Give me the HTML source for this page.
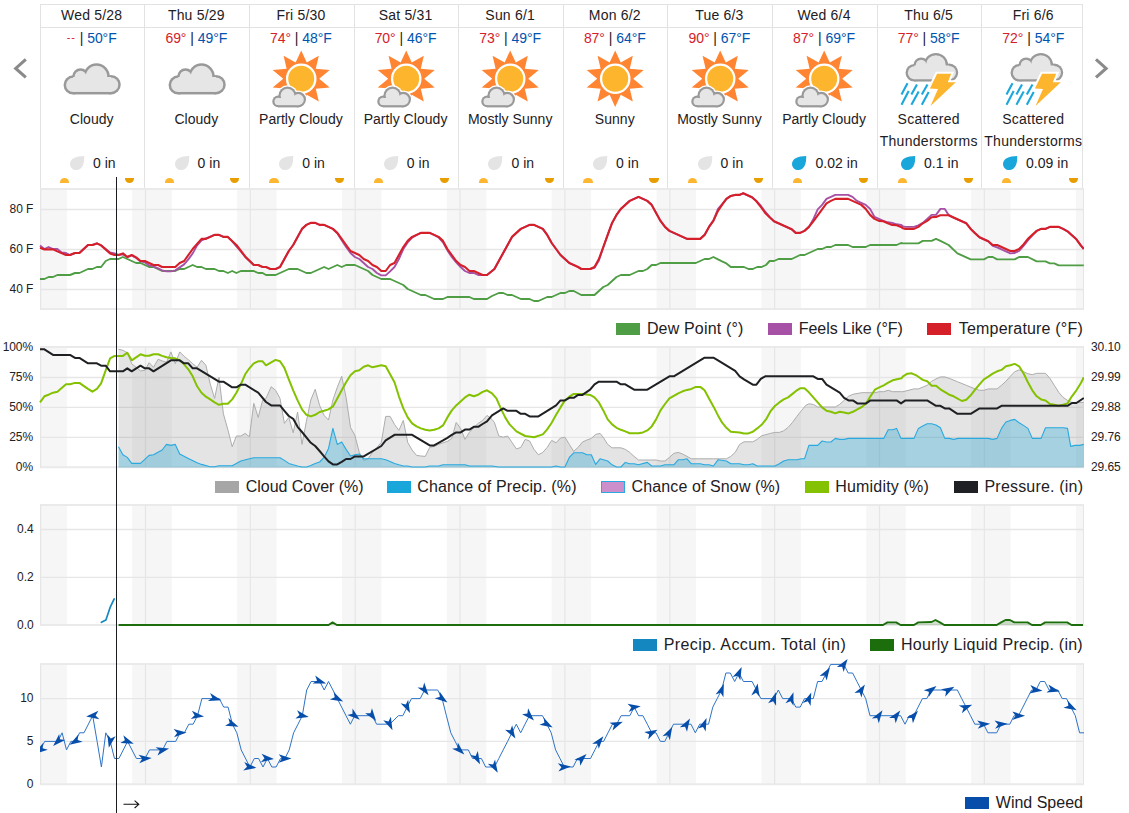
<!DOCTYPE html><html><head><meta charset="utf-8"><title>10-Day Weather Forecast</title><style>
html,body{margin:0;padding:0;background:#fff}
body{width:1129px;height:813px;overflow:hidden;position:relative;font-family:"Liberation Sans",sans-serif;color:#1e2023}
.a{position:absolute}
.t{position:absolute;white-space:nowrap;font-size:14px;line-height:22px;text-align:center;letter-spacing:.04px}
.hi{color:#d5202a}.lo{color:#0053ae}
.ax{position:absolute;font-size:12px;line-height:16px;white-space:nowrap;color:#1e2023;letter-spacing:-.1px}
.lg{position:absolute;font-size:16px;line-height:22px;white-space:nowrap;letter-spacing:.17px}
.sw{position:absolute;width:24px;height:11px}
#clip{position:absolute;left:0;top:0;width:1084px;height:813px;overflow:hidden}
</style></head><body>
<svg width="0" height="0" style="position:absolute"><defs>
<g id="bigcloud"><circle cx="9.90" cy="21.90" r="9.55" fill="#999"/><circle cx="17.30" cy="13.60" r="8.35" fill="#999"/><circle cx="33.30" cy="13.60" r="13.25" fill="#999"/><circle cx="47.80" cy="21.70" r="9.75" fill="#999"/><rect x="9.90" y="14.00" width="37.90" height="17.45" fill="#999"/><circle cx="9.90" cy="21.90" r="7.05" fill="#e6e6e6"/><circle cx="17.30" cy="13.60" r="5.85" fill="#e6e6e6"/><circle cx="33.30" cy="13.60" r="10.75" fill="#e6e6e6"/><circle cx="47.80" cy="21.70" r="7.25" fill="#e6e6e6"/><rect x="9.90" y="14.00" width="37.90" height="14.95" fill="#e6e6e6"/></g>
<g id="sun"><polygon points="0.00,-28.30 5.25,-16.17 16.63,-22.90 13.75,-9.99 26.91,-8.75 17.00,0.00 26.91,8.75 13.75,9.99 16.63,22.90 5.25,16.17 0.00,28.30 -5.25,16.17 -16.63,22.90 -13.75,9.99 -26.91,8.75 -17.00,0.00 -26.91,-8.75 -13.75,-9.99 -16.63,-22.90 -5.25,-16.17" fill="#ff8533" transform="scale(1.06,1)"/><circle r="15.3" fill="#fff"/><circle r="13" fill="#fdb52e"/></g>
<g id="smallcloud"><circle cx="29.20" cy="101.40" r="7.20" fill="#fff"/><circle cx="38.50" cy="95.60" r="10.40" fill="#fff"/><circle cx="49.20" cy="99.60" r="9.10" fill="#fff"/><rect x="29.20" y="98.00" width="20.00" height="10.70" fill="#fff"/><circle cx="29.20" cy="101.40" r="5.90" fill="#999"/><circle cx="38.50" cy="95.60" r="9.10" fill="#999"/><circle cx="49.20" cy="99.60" r="7.80" fill="#999"/><rect x="29.20" y="98.00" width="20.00" height="9.40" fill="#999"/><circle cx="29.20" cy="101.40" r="3.70" fill="#e6e6e6"/><circle cx="38.50" cy="95.60" r="6.90" fill="#e6e6e6"/><circle cx="49.20" cy="99.60" r="5.60" fill="#e6e6e6"/><rect x="29.20" y="98.00" width="20.00" height="7.20" fill="#e6e6e6"/></g>
<clipPath id="c4" clipPathUnits="userSpaceOnUse"><rect x="40" y="650" width="1043" height="160"/></clipPath>
<path id="drop" d="M14.2,0.1 C14.4,5.9 13.4,10.4 10.3,12.8 C7.1,15.1 2.8,14.2 0.9,11.2 C-1,8.1 0.2,4.1 3.6,2.3 C6.3,0.7 10.5,0.2 14.2,0.1 Z"/>
</defs></svg>
<div id="clip">
<div class="a" style="left:40px;top:4px;width:1043px;height:1px;background:#e2e2e2"></div>
<div class="a" style="left:40px;top:27px;width:1043px;height:1px;background:#e2e2e2"></div>
<div class="a" style="left:40px;top:4px;width:1px;height:184px;background:#e2e2e2"></div>
<div class="a" style="left:144px;top:4px;width:1px;height:184px;background:#e2e2e2"></div>
<div class="a" style="left:249px;top:4px;width:1px;height:184px;background:#e2e2e2"></div>
<div class="a" style="left:354px;top:4px;width:1px;height:184px;background:#e2e2e2"></div>
<div class="a" style="left:458px;top:4px;width:1px;height:184px;background:#e2e2e2"></div>
<div class="a" style="left:563px;top:4px;width:1px;height:184px;background:#e2e2e2"></div>
<div class="a" style="left:667px;top:4px;width:1px;height:184px;background:#e2e2e2"></div>
<div class="a" style="left:772px;top:4px;width:1px;height:184px;background:#e2e2e2"></div>
<div class="a" style="left:877px;top:4px;width:1px;height:184px;background:#e2e2e2"></div>
<div class="a" style="left:981px;top:4px;width:1px;height:184px;background:#e2e2e2"></div>
<div class="a" style="left:1082px;top:4px;width:1px;height:184px;background:#e2e2e2"></div>
<div class="t" style="left:39.40px;width:104.62px;top:3.75px;letter-spacing:.2px;">Wed 5/28</div>
<div class="t" style="left:39.40px;width:104.62px;top:27.25px;letter-spacing:-.05px;"><span class="hi" style="font-size:11px;letter-spacing:.9px;position:relative;top:-2.6px">--</span> | <span class="lo">50°F</span></div>
<div class="t" style="left:39.40px;width:104.62px;top:108.15px;">Cloudy</div>
<svg class="a" style="left:40.00px;top:45px" width="105" height="70" viewBox="0 45 105 70"><use href="#bigcloud" x="23.2" y="63"/></svg>
<svg class="a" style="left:69.90px;top:155.8px" width="15" height="15" viewBox="0 0 15 15"><use href="#drop" fill="#e4e4e4"/></svg>
<div class="t" style="left:92.90px;top:152.15px;text-align:left">0 in</div>
<div class="a" style="left:59.90px;top:177.8px;width:9.2px;height:4.9px;background:#fdb62f;border-radius:4.6px 4.6px 0 0"></div>
<div class="a" style="left:125.10px;top:178px;width:9.2px;height:5.1px;background:#e89e00;border-radius:0 0 4.6px 4.6px"></div>
<div class="t" style="left:144.02px;width:104.62px;top:3.75px;letter-spacing:.2px;">Thu 5/29</div>
<div class="t" style="left:144.02px;width:104.62px;top:27.25px;letter-spacing:-.05px;"><span class="hi">69°</span> | <span class="lo">49°F</span></div>
<div class="t" style="left:144.02px;width:104.62px;top:108.15px;">Cloudy</div>
<svg class="a" style="left:144.62px;top:45px" width="105" height="70" viewBox="0 45 105 70"><use href="#bigcloud" x="23.2" y="63"/></svg>
<svg class="a" style="left:174.52px;top:155.8px" width="15" height="15" viewBox="0 0 15 15"><use href="#drop" fill="#e4e4e4"/></svg>
<div class="t" style="left:197.52px;top:152.15px;text-align:left">0 in</div>
<div class="a" style="left:164.61px;top:177.8px;width:9.2px;height:4.9px;background:#fdb62f;border-radius:4.6px 4.6px 0 0"></div>
<div class="a" style="left:229.96px;top:178px;width:9.2px;height:5.1px;background:#e89e00;border-radius:0 0 4.6px 4.6px"></div>
<div class="t" style="left:248.64px;width:104.62px;top:3.75px;letter-spacing:.2px;">Fri 5/30</div>
<div class="t" style="left:248.64px;width:104.62px;top:27.25px;letter-spacing:-.05px;"><span class="hi">74°</span> | <span class="lo">48°F</span></div>
<div class="t" style="left:248.64px;width:104.62px;top:108.15px;">Partly Cloudy</div>
<svg class="a" style="left:249.24px;top:45px" width="105" height="70" viewBox="0 45 105 70"><use href="#sun" x="52.2" y="78.7"/><use href="#smallcloud"/></svg>
<svg class="a" style="left:279.14px;top:155.8px" width="15" height="15" viewBox="0 0 15 15"><use href="#drop" fill="#e4e4e4"/></svg>
<div class="t" style="left:302.14px;top:152.15px;text-align:left">0 in</div>
<div class="a" style="left:269.32px;top:177.8px;width:9.2px;height:4.9px;background:#fdb62f;border-radius:4.6px 4.6px 0 0"></div>
<div class="a" style="left:334.82px;top:178px;width:9.2px;height:5.1px;background:#e89e00;border-radius:0 0 4.6px 4.6px"></div>
<div class="t" style="left:353.26px;width:104.62px;top:3.75px;letter-spacing:.2px;">Sat 5/31</div>
<div class="t" style="left:353.26px;width:104.62px;top:27.25px;letter-spacing:-.05px;"><span class="hi">70°</span> | <span class="lo">46°F</span></div>
<div class="t" style="left:353.26px;width:104.62px;top:108.15px;">Partly Cloudy</div>
<svg class="a" style="left:353.86px;top:45px" width="105" height="70" viewBox="0 45 105 70"><use href="#sun" x="52.2" y="78.7"/><use href="#smallcloud"/></svg>
<svg class="a" style="left:383.76px;top:155.8px" width="15" height="15" viewBox="0 0 15 15"><use href="#drop" fill="#e4e4e4"/></svg>
<div class="t" style="left:406.76px;top:152.15px;text-align:left">0 in</div>
<div class="a" style="left:374.03px;top:177.8px;width:9.2px;height:4.9px;background:#fdb62f;border-radius:4.6px 4.6px 0 0"></div>
<div class="a" style="left:439.68px;top:178px;width:9.2px;height:5.1px;background:#e89e00;border-radius:0 0 4.6px 4.6px"></div>
<div class="t" style="left:457.88px;width:104.62px;top:3.75px;letter-spacing:.2px;">Sun 6/1</div>
<div class="t" style="left:457.88px;width:104.62px;top:27.25px;letter-spacing:-.05px;"><span class="hi">73°</span> | <span class="lo">49°F</span></div>
<div class="t" style="left:457.88px;width:104.62px;top:108.15px;">Mostly Sunny</div>
<svg class="a" style="left:458.48px;top:45px" width="105" height="70" viewBox="0 45 105 70"><use href="#sun" x="52.2" y="78.7"/><use href="#smallcloud"/></svg>
<svg class="a" style="left:488.38px;top:155.8px" width="15" height="15" viewBox="0 0 15 15"><use href="#drop" fill="#e4e4e4"/></svg>
<div class="t" style="left:511.38px;top:152.15px;text-align:left">0 in</div>
<div class="a" style="left:478.74px;top:177.8px;width:9.2px;height:4.9px;background:#fdb62f;border-radius:4.6px 4.6px 0 0"></div>
<div class="a" style="left:544.54px;top:178px;width:9.2px;height:5.1px;background:#e89e00;border-radius:0 0 4.6px 4.6px"></div>
<div class="t" style="left:562.50px;width:104.62px;top:3.75px;letter-spacing:.2px;">Mon 6/2</div>
<div class="t" style="left:562.50px;width:104.62px;top:27.25px;letter-spacing:-.05px;"><span class="hi">87°</span> | <span class="lo">64°F</span></div>
<div class="t" style="left:562.50px;width:104.62px;top:108.15px;">Sunny</div>
<svg class="a" style="left:563.10px;top:45px" width="105" height="70" viewBox="0 45 105 70"><use href="#sun" x="52.2" y="78.7"/></svg>
<svg class="a" style="left:593.00px;top:155.8px" width="15" height="15" viewBox="0 0 15 15"><use href="#drop" fill="#e4e4e4"/></svg>
<div class="t" style="left:616.00px;top:152.15px;text-align:left">0 in</div>
<div class="a" style="left:583.45px;top:177.8px;width:9.2px;height:4.9px;background:#fdb62f;border-radius:4.6px 4.6px 0 0"></div>
<div class="a" style="left:649.40px;top:178px;width:9.2px;height:5.1px;background:#e89e00;border-radius:0 0 4.6px 4.6px"></div>
<div class="t" style="left:667.12px;width:104.62px;top:3.75px;letter-spacing:.2px;">Tue 6/3</div>
<div class="t" style="left:667.12px;width:104.62px;top:27.25px;letter-spacing:-.05px;"><span class="hi">90°</span> | <span class="lo">67°F</span></div>
<div class="t" style="left:667.12px;width:104.62px;top:108.15px;">Mostly Sunny</div>
<svg class="a" style="left:667.72px;top:45px" width="105" height="70" viewBox="0 45 105 70"><use href="#sun" x="52.2" y="78.7"/><use href="#smallcloud"/></svg>
<svg class="a" style="left:697.62px;top:155.8px" width="15" height="15" viewBox="0 0 15 15"><use href="#drop" fill="#e4e4e4"/></svg>
<div class="t" style="left:720.62px;top:152.15px;text-align:left">0 in</div>
<div class="a" style="left:688.16px;top:177.8px;width:9.2px;height:4.9px;background:#fdb62f;border-radius:4.6px 4.6px 0 0"></div>
<div class="a" style="left:754.26px;top:178px;width:9.2px;height:5.1px;background:#e89e00;border-radius:0 0 4.6px 4.6px"></div>
<div class="t" style="left:771.74px;width:104.62px;top:3.75px;letter-spacing:.2px;">Wed 6/4</div>
<div class="t" style="left:771.74px;width:104.62px;top:27.25px;letter-spacing:-.05px;"><span class="hi">87°</span> | <span class="lo">69°F</span></div>
<div class="t" style="left:771.74px;width:104.62px;top:108.15px;">Partly Cloudy</div>
<svg class="a" style="left:772.34px;top:45px" width="105" height="70" viewBox="0 45 105 70"><use href="#sun" x="52.2" y="78.7"/><use href="#smallcloud"/></svg>
<svg class="a" style="left:792.00px;top:155.8px" width="15" height="15" viewBox="0 0 15 15"><use href="#drop" fill="#19a7db"/></svg>
<div class="t" style="left:815.50px;top:152.15px;text-align:left">0.02 in</div>
<div class="a" style="left:792.87px;top:177.8px;width:9.2px;height:4.9px;background:#fdb62f;border-radius:4.6px 4.6px 0 0"></div>
<div class="a" style="left:859.12px;top:178px;width:9.2px;height:5.1px;background:#e89e00;border-radius:0 0 4.6px 4.6px"></div>
<div class="t" style="left:876.36px;width:104.62px;top:3.75px;letter-spacing:.2px;">Thu 6/5</div>
<div class="t" style="left:876.36px;width:104.62px;top:27.25px;letter-spacing:-.05px;"><span class="hi">77°</span> | <span class="lo">58°F</span></div>
<div class="t" style="left:876.36px;width:104.62px;top:108.15px;letter-spacing:.25px;">Scattered</div>
<div class="t" style="left:876.36px;width:104.62px;top:130.15px;letter-spacing:.3px;">Thunderstorms</div>
<svg class="a" style="left:876.96px;top:45px" width="105" height="70" viewBox="0 45 105 70"><g transform="translate(28.2,52.6) scale(0.921)"><use href="#bigcloud"/></g><polygon points="60.1,73.8 74.2,73.8 70.8,82.2 78.8,82.2 53.5,106.0 61.0,89.1 52.9,88.5" fill="#fdb52e" stroke="#fff" stroke-width="4" stroke-linejoin="miter"/><polygon points="60.1,73.8 74.2,73.8 70.8,82.2 78.8,82.2 53.5,106.0 61.0,89.1 52.9,88.5" fill="#fdb52e"/><line x1="30.5" y1="83.3" x2="24.5" y2="94.5" stroke="#1ba7dc" stroke-width="2.1"/><line x1="40.0" y1="84.4" x2="34.4" y2="94.5" stroke="#1ba7dc" stroke-width="2.1"/><line x1="50.5" y1="84.4" x2="44.8" y2="94.5" stroke="#1ba7dc" stroke-width="2.1"/><line x1="31.7" y1="91.1" x2="24.5" y2="104.8" stroke="#1ba7dc" stroke-width="2.1"/><line x1="41.7" y1="91.5" x2="34.4" y2="104.8" stroke="#1ba7dc" stroke-width="2.1"/><line x1="51.7" y1="91.9" x2="44.8" y2="104.8" stroke="#1ba7dc" stroke-width="2.1"/></svg>
<svg class="a" style="left:900.80px;top:155.8px" width="15" height="15" viewBox="0 0 15 15"><use href="#drop" fill="#19a7db"/></svg>
<div class="t" style="left:924.00px;top:152.15px;text-align:left">0.1 in</div>
<div class="a" style="left:897.58px;top:177.8px;width:9.2px;height:4.9px;background:#fdb62f;border-radius:4.6px 4.6px 0 0"></div>
<div class="a" style="left:963.98px;top:178px;width:9.2px;height:5.1px;background:#e89e00;border-radius:0 0 4.6px 4.6px"></div>
<div class="t" style="left:980.98px;width:104.62px;top:3.75px;letter-spacing:.2px;">Fri 6/6</div>
<div class="t" style="left:980.98px;width:104.62px;top:27.25px;letter-spacing:-.05px;"><span class="hi">72°</span> | <span class="lo">54°F</span></div>
<div class="t" style="left:980.98px;width:104.62px;top:108.15px;letter-spacing:.25px;">Scattered</div>
<div class="t" style="left:980.98px;width:104.62px;top:130.15px;letter-spacing:.3px;">Thunderstorms</div>
<svg class="a" style="left:981.58px;top:45px" width="105" height="70" viewBox="0 45 105 70"><g transform="translate(28.2,52.6) scale(0.921)"><use href="#bigcloud"/></g><polygon points="60.1,73.8 74.2,73.8 70.8,82.2 78.8,82.2 53.5,106.0 61.0,89.1 52.9,88.5" fill="#fdb52e" stroke="#fff" stroke-width="4" stroke-linejoin="miter"/><polygon points="60.1,73.8 74.2,73.8 70.8,82.2 78.8,82.2 53.5,106.0 61.0,89.1 52.9,88.5" fill="#fdb52e"/><line x1="30.5" y1="83.3" x2="24.5" y2="94.5" stroke="#1ba7dc" stroke-width="2.1"/><line x1="40.0" y1="84.4" x2="34.4" y2="94.5" stroke="#1ba7dc" stroke-width="2.1"/><line x1="50.5" y1="84.4" x2="44.8" y2="94.5" stroke="#1ba7dc" stroke-width="2.1"/><line x1="31.7" y1="91.1" x2="24.5" y2="104.8" stroke="#1ba7dc" stroke-width="2.1"/><line x1="41.7" y1="91.5" x2="34.4" y2="104.8" stroke="#1ba7dc" stroke-width="2.1"/><line x1="51.7" y1="91.9" x2="44.8" y2="104.8" stroke="#1ba7dc" stroke-width="2.1"/></svg>
<svg class="a" style="left:1003.20px;top:155.8px" width="15" height="15" viewBox="0 0 15 15"><use href="#drop" fill="#19a7db"/></svg>
<div class="t" style="left:1025.90px;top:152.15px;text-align:left">0.09 in</div>
<div class="a" style="left:1002.29px;top:177.8px;width:9.2px;height:4.9px;background:#fdb62f;border-radius:4.6px 4.6px 0 0"></div>
<div class="a" style="left:1068.84px;top:178px;width:9.2px;height:5.1px;background:#e89e00;border-radius:0 0 4.6px 4.6px"></div>
<svg class="a" style="left:0;top:0" width="1084" height="813" viewBox="0 0 1084 813">
<rect x="40.3" y="188.9" width="26.5" height="120.1" fill="#f6f6f6"/>
<rect x="132.3" y="188.9" width="12.9" height="120.1" fill="#f6f6f6"/>
<rect x="145.2" y="188.9" width="26.5" height="120.1" fill="#f6f6f6"/>
<rect x="237.2" y="188.9" width="12.9" height="120.1" fill="#f6f6f6"/>
<rect x="250.0" y="188.9" width="26.5" height="120.1" fill="#f6f6f6"/>
<rect x="342.0" y="188.9" width="12.9" height="120.1" fill="#f6f6f6"/>
<rect x="354.9" y="188.9" width="26.5" height="120.1" fill="#f6f6f6"/>
<rect x="446.9" y="188.9" width="12.9" height="120.1" fill="#f6f6f6"/>
<rect x="459.7" y="188.9" width="26.5" height="120.1" fill="#f6f6f6"/>
<rect x="551.7" y="188.9" width="12.9" height="120.1" fill="#f6f6f6"/>
<rect x="564.6" y="188.9" width="26.5" height="120.1" fill="#f6f6f6"/>
<rect x="656.6" y="188.9" width="12.9" height="120.1" fill="#f6f6f6"/>
<rect x="669.5" y="188.9" width="26.5" height="120.1" fill="#f6f6f6"/>
<rect x="761.5" y="188.9" width="12.9" height="120.1" fill="#f6f6f6"/>
<rect x="774.3" y="188.9" width="26.5" height="120.1" fill="#f6f6f6"/>
<rect x="866.3" y="188.9" width="12.9" height="120.1" fill="#f6f6f6"/>
<rect x="879.2" y="188.9" width="26.5" height="120.1" fill="#f6f6f6"/>
<rect x="971.2" y="188.9" width="12.9" height="120.1" fill="#f6f6f6"/>
<rect x="984.0" y="188.9" width="26.5" height="120.1" fill="#f6f6f6"/>
<rect x="1076.0" y="188.9" width="12.9" height="120.1" fill="#f6f6f6"/>
<rect x="1088.9" y="188.9" width="26.5" height="120.1" fill="#f6f6f6"/>
<rect x="1180.9" y="188.9" width="12.9" height="120.1" fill="#f6f6f6"/>
<line x1="40" x2="1084" y1="209.5" y2="209.5" stroke="#e6e6e6" stroke-width="1.3"/>
<line x1="40" x2="1084" y1="249.5" y2="249.5" stroke="#e6e6e6" stroke-width="1.3"/>
<line x1="40" x2="1084" y1="289.5" y2="289.5" stroke="#e6e6e6" stroke-width="1.3"/>
<line x1="40" x2="1084" y1="188.9" y2="188.9" stroke="#eaeaea" stroke-width="2"/>
<line x1="40" x2="1084" y1="309.0" y2="309.0" stroke="#eaeaea" stroke-width="2"/>
<line x1="1083.5" x2="1083.5" y1="188.9" y2="309.0" stroke="#e6e6e6" stroke-width="1"/>
<line x1="40.6" x2="40.6" y1="188.9" y2="309.0" stroke="#e6e6e6" stroke-width="1.2"/>
<line x1="145.5" x2="145.5" y1="188.9" y2="309.0" stroke="#e6e6e6" stroke-width="1.2"/>
<line x1="250.3" x2="250.3" y1="188.9" y2="309.0" stroke="#e6e6e6" stroke-width="1.2"/>
<line x1="355.2" x2="355.2" y1="188.9" y2="309.0" stroke="#e6e6e6" stroke-width="1.2"/>
<line x1="460.0" x2="460.0" y1="188.9" y2="309.0" stroke="#e6e6e6" stroke-width="1.2"/>
<line x1="564.9" x2="564.9" y1="188.9" y2="309.0" stroke="#e6e6e6" stroke-width="1.2"/>
<line x1="669.8" x2="669.8" y1="188.9" y2="309.0" stroke="#e6e6e6" stroke-width="1.2"/>
<line x1="774.6" x2="774.6" y1="188.9" y2="309.0" stroke="#e6e6e6" stroke-width="1.2"/>
<line x1="879.5" x2="879.5" y1="188.9" y2="309.0" stroke="#e6e6e6" stroke-width="1.2"/>
<line x1="984.3" x2="984.3" y1="188.9" y2="309.0" stroke="#e6e6e6" stroke-width="1.2"/>
<rect x="40.3" y="346.9" width="26.5" height="120.4" fill="#f6f6f6"/>
<rect x="132.3" y="346.9" width="12.9" height="120.4" fill="#f6f6f6"/>
<rect x="145.2" y="346.9" width="26.5" height="120.4" fill="#f6f6f6"/>
<rect x="237.2" y="346.9" width="12.9" height="120.4" fill="#f6f6f6"/>
<rect x="250.0" y="346.9" width="26.5" height="120.4" fill="#f6f6f6"/>
<rect x="342.0" y="346.9" width="12.9" height="120.4" fill="#f6f6f6"/>
<rect x="354.9" y="346.9" width="26.5" height="120.4" fill="#f6f6f6"/>
<rect x="446.9" y="346.9" width="12.9" height="120.4" fill="#f6f6f6"/>
<rect x="459.7" y="346.9" width="26.5" height="120.4" fill="#f6f6f6"/>
<rect x="551.7" y="346.9" width="12.9" height="120.4" fill="#f6f6f6"/>
<rect x="564.6" y="346.9" width="26.5" height="120.4" fill="#f6f6f6"/>
<rect x="656.6" y="346.9" width="12.9" height="120.4" fill="#f6f6f6"/>
<rect x="669.5" y="346.9" width="26.5" height="120.4" fill="#f6f6f6"/>
<rect x="761.5" y="346.9" width="12.9" height="120.4" fill="#f6f6f6"/>
<rect x="774.3" y="346.9" width="26.5" height="120.4" fill="#f6f6f6"/>
<rect x="866.3" y="346.9" width="12.9" height="120.4" fill="#f6f6f6"/>
<rect x="879.2" y="346.9" width="26.5" height="120.4" fill="#f6f6f6"/>
<rect x="971.2" y="346.9" width="12.9" height="120.4" fill="#f6f6f6"/>
<rect x="984.0" y="346.9" width="26.5" height="120.4" fill="#f6f6f6"/>
<rect x="1076.0" y="346.9" width="12.9" height="120.4" fill="#f6f6f6"/>
<rect x="1088.9" y="346.9" width="26.5" height="120.4" fill="#f6f6f6"/>
<rect x="1180.9" y="346.9" width="12.9" height="120.4" fill="#f6f6f6"/>
<line x1="40" x2="1084" y1="377.5" y2="377.5" stroke="#e6e6e6" stroke-width="1.3"/>
<line x1="40" x2="1084" y1="407.4" y2="407.4" stroke="#e6e6e6" stroke-width="1.3"/>
<line x1="40" x2="1084" y1="437.4" y2="437.4" stroke="#e6e6e6" stroke-width="1.3"/>
<line x1="40" x2="1084" y1="346.9" y2="346.9" stroke="#eaeaea" stroke-width="2"/>
<line x1="40" x2="1084" y1="467.3" y2="467.3" stroke="#eaeaea" stroke-width="2"/>
<line x1="1083.5" x2="1083.5" y1="346.9" y2="467.3" stroke="#e6e6e6" stroke-width="1"/>
<line x1="40.6" x2="40.6" y1="346.9" y2="467.3" stroke="#e6e6e6" stroke-width="1.2"/>
<line x1="145.5" x2="145.5" y1="346.9" y2="467.3" stroke="#e6e6e6" stroke-width="1.2"/>
<line x1="250.3" x2="250.3" y1="346.9" y2="467.3" stroke="#e6e6e6" stroke-width="1.2"/>
<line x1="355.2" x2="355.2" y1="346.9" y2="467.3" stroke="#e6e6e6" stroke-width="1.2"/>
<line x1="460.0" x2="460.0" y1="346.9" y2="467.3" stroke="#e6e6e6" stroke-width="1.2"/>
<line x1="564.9" x2="564.9" y1="346.9" y2="467.3" stroke="#e6e6e6" stroke-width="1.2"/>
<line x1="669.8" x2="669.8" y1="346.9" y2="467.3" stroke="#e6e6e6" stroke-width="1.2"/>
<line x1="774.6" x2="774.6" y1="346.9" y2="467.3" stroke="#e6e6e6" stroke-width="1.2"/>
<line x1="879.5" x2="879.5" y1="346.9" y2="467.3" stroke="#e6e6e6" stroke-width="1.2"/>
<line x1="984.3" x2="984.3" y1="346.9" y2="467.3" stroke="#e6e6e6" stroke-width="1.2"/>
<rect x="40.3" y="505.0" width="26.5" height="120.0" fill="#f6f6f6"/>
<rect x="132.3" y="505.0" width="12.9" height="120.0" fill="#f6f6f6"/>
<rect x="145.2" y="505.0" width="26.5" height="120.0" fill="#f6f6f6"/>
<rect x="237.2" y="505.0" width="12.9" height="120.0" fill="#f6f6f6"/>
<rect x="250.0" y="505.0" width="26.5" height="120.0" fill="#f6f6f6"/>
<rect x="342.0" y="505.0" width="12.9" height="120.0" fill="#f6f6f6"/>
<rect x="354.9" y="505.0" width="26.5" height="120.0" fill="#f6f6f6"/>
<rect x="446.9" y="505.0" width="12.9" height="120.0" fill="#f6f6f6"/>
<rect x="459.7" y="505.0" width="26.5" height="120.0" fill="#f6f6f6"/>
<rect x="551.7" y="505.0" width="12.9" height="120.0" fill="#f6f6f6"/>
<rect x="564.6" y="505.0" width="26.5" height="120.0" fill="#f6f6f6"/>
<rect x="656.6" y="505.0" width="12.9" height="120.0" fill="#f6f6f6"/>
<rect x="669.5" y="505.0" width="26.5" height="120.0" fill="#f6f6f6"/>
<rect x="761.5" y="505.0" width="12.9" height="120.0" fill="#f6f6f6"/>
<rect x="774.3" y="505.0" width="26.5" height="120.0" fill="#f6f6f6"/>
<rect x="866.3" y="505.0" width="12.9" height="120.0" fill="#f6f6f6"/>
<rect x="879.2" y="505.0" width="26.5" height="120.0" fill="#f6f6f6"/>
<rect x="971.2" y="505.0" width="12.9" height="120.0" fill="#f6f6f6"/>
<rect x="984.0" y="505.0" width="26.5" height="120.0" fill="#f6f6f6"/>
<rect x="1076.0" y="505.0" width="12.9" height="120.0" fill="#f6f6f6"/>
<rect x="1088.9" y="505.0" width="26.5" height="120.0" fill="#f6f6f6"/>
<rect x="1180.9" y="505.0" width="12.9" height="120.0" fill="#f6f6f6"/>
<line x1="40" x2="1084" y1="529.5" y2="529.5" stroke="#e6e6e6" stroke-width="1.3"/>
<line x1="40" x2="1084" y1="577.4" y2="577.4" stroke="#e6e6e6" stroke-width="1.3"/>
<line x1="40" x2="1084" y1="505.0" y2="505.0" stroke="#eaeaea" stroke-width="2"/>
<line x1="40" x2="1084" y1="625.0" y2="625.0" stroke="#eaeaea" stroke-width="2"/>
<line x1="1083.5" x2="1083.5" y1="505.0" y2="625.0" stroke="#e6e6e6" stroke-width="1"/>
<line x1="40.6" x2="40.6" y1="505.0" y2="625.0" stroke="#e6e6e6" stroke-width="1.2"/>
<line x1="145.5" x2="145.5" y1="505.0" y2="625.0" stroke="#e6e6e6" stroke-width="1.2"/>
<line x1="250.3" x2="250.3" y1="505.0" y2="625.0" stroke="#e6e6e6" stroke-width="1.2"/>
<line x1="355.2" x2="355.2" y1="505.0" y2="625.0" stroke="#e6e6e6" stroke-width="1.2"/>
<line x1="460.0" x2="460.0" y1="505.0" y2="625.0" stroke="#e6e6e6" stroke-width="1.2"/>
<line x1="564.9" x2="564.9" y1="505.0" y2="625.0" stroke="#e6e6e6" stroke-width="1.2"/>
<line x1="669.8" x2="669.8" y1="505.0" y2="625.0" stroke="#e6e6e6" stroke-width="1.2"/>
<line x1="774.6" x2="774.6" y1="505.0" y2="625.0" stroke="#e6e6e6" stroke-width="1.2"/>
<line x1="879.5" x2="879.5" y1="505.0" y2="625.0" stroke="#e6e6e6" stroke-width="1.2"/>
<line x1="984.3" x2="984.3" y1="505.0" y2="625.0" stroke="#e6e6e6" stroke-width="1.2"/>
<rect x="40.3" y="663.9" width="26.5" height="120.3" fill="#f6f6f6"/>
<rect x="132.3" y="663.9" width="12.9" height="120.3" fill="#f6f6f6"/>
<rect x="145.2" y="663.9" width="26.5" height="120.3" fill="#f6f6f6"/>
<rect x="237.2" y="663.9" width="12.9" height="120.3" fill="#f6f6f6"/>
<rect x="250.0" y="663.9" width="26.5" height="120.3" fill="#f6f6f6"/>
<rect x="342.0" y="663.9" width="12.9" height="120.3" fill="#f6f6f6"/>
<rect x="354.9" y="663.9" width="26.5" height="120.3" fill="#f6f6f6"/>
<rect x="446.9" y="663.9" width="12.9" height="120.3" fill="#f6f6f6"/>
<rect x="459.7" y="663.9" width="26.5" height="120.3" fill="#f6f6f6"/>
<rect x="551.7" y="663.9" width="12.9" height="120.3" fill="#f6f6f6"/>
<rect x="564.6" y="663.9" width="26.5" height="120.3" fill="#f6f6f6"/>
<rect x="656.6" y="663.9" width="12.9" height="120.3" fill="#f6f6f6"/>
<rect x="669.5" y="663.9" width="26.5" height="120.3" fill="#f6f6f6"/>
<rect x="761.5" y="663.9" width="12.9" height="120.3" fill="#f6f6f6"/>
<rect x="774.3" y="663.9" width="26.5" height="120.3" fill="#f6f6f6"/>
<rect x="866.3" y="663.9" width="12.9" height="120.3" fill="#f6f6f6"/>
<rect x="879.2" y="663.9" width="26.5" height="120.3" fill="#f6f6f6"/>
<rect x="971.2" y="663.9" width="12.9" height="120.3" fill="#f6f6f6"/>
<rect x="984.0" y="663.9" width="26.5" height="120.3" fill="#f6f6f6"/>
<rect x="1076.0" y="663.9" width="12.9" height="120.3" fill="#f6f6f6"/>
<rect x="1088.9" y="663.9" width="26.5" height="120.3" fill="#f6f6f6"/>
<rect x="1180.9" y="663.9" width="12.9" height="120.3" fill="#f6f6f6"/>
<line x1="40" x2="1084" y1="698.7" y2="698.7" stroke="#e6e6e6" stroke-width="1.3"/>
<line x1="40" x2="1084" y1="741.3" y2="741.3" stroke="#e6e6e6" stroke-width="1.3"/>
<line x1="40" x2="1084" y1="663.9" y2="663.9" stroke="#eaeaea" stroke-width="2"/>
<line x1="40" x2="1084" y1="784.2" y2="784.2" stroke="#eaeaea" stroke-width="2"/>
<line x1="1083.5" x2="1083.5" y1="663.9" y2="784.2" stroke="#e6e6e6" stroke-width="1"/>
<line x1="40.6" x2="40.6" y1="663.9" y2="784.2" stroke="#e6e6e6" stroke-width="1.2"/>
<line x1="145.5" x2="145.5" y1="663.9" y2="784.2" stroke="#e6e6e6" stroke-width="1.2"/>
<line x1="250.3" x2="250.3" y1="663.9" y2="784.2" stroke="#e6e6e6" stroke-width="1.2"/>
<line x1="355.2" x2="355.2" y1="663.9" y2="784.2" stroke="#e6e6e6" stroke-width="1.2"/>
<line x1="460.0" x2="460.0" y1="663.9" y2="784.2" stroke="#e6e6e6" stroke-width="1.2"/>
<line x1="564.9" x2="564.9" y1="663.9" y2="784.2" stroke="#e6e6e6" stroke-width="1.2"/>
<line x1="669.8" x2="669.8" y1="663.9" y2="784.2" stroke="#e6e6e6" stroke-width="1.2"/>
<line x1="774.6" x2="774.6" y1="663.9" y2="784.2" stroke="#e6e6e6" stroke-width="1.2"/>
<line x1="879.5" x2="879.5" y1="663.9" y2="784.2" stroke="#e6e6e6" stroke-width="1.2"/>
<line x1="984.3" x2="984.3" y1="663.9" y2="784.2" stroke="#e6e6e6" stroke-width="1.2"/>
<path d="M118.5,467.5 L118.5,349.3 L122.9,350.3 L127.3,352.7 L131.7,363.7 L136.1,367.3 L140.5,370.9 L144.9,370.3 L149.1,362.7 L153.5,367.3 L158.1,359.3 L162.1,360.9 L166.5,362.3 L170.9,351.9 L175.3,363.7 L179.7,351.9 L184.1,356.3 L188.3,359.7 L192.7,363.7 L197.1,367.3 L201.5,360.3 L205.9,365.3 L210.2,383.9 L214.6,398.4 L219.0,377.3 L223.4,413.8 L227.8,429.4 L232.2,446.8 L236.4,436.0 L240.8,436.0 L245.2,433.4 L249.4,436.8 L253.8,403.4 L258.2,417.4 L262.6,400.4 L266.0,398.4 L271.2,386.7 L275.6,390.3 L280.0,398.4 L284.4,423.4 L288.8,417.4 L293.2,432.8 L297.6,412.0 L302.0,444.4 L306.4,421.4 L310.8,400.0 L315.2,389.3 L319.6,405.4 L324.1,415.4 L328.5,420.0 L332.9,400.0 L337.3,387.3 L341.7,376.3 L346.1,397.4 L350.5,427.4 L354.9,435.4 L359.3,452.4 L363.7,460.4 L368.1,458.8 L372.5,452.4 L376.9,447.4 L381.3,442.4 L385.7,416.4 L390.1,416.4 L394.5,424.4 L398.9,430.4 L403.3,420.4 L407.7,442.4 L412.1,450.0 L416.5,455.4 L420.9,456.0 L425.3,456.4 L429.7,447.4 L434.1,446.4 L438.6,444.4 L443.0,442.8 L447.4,441.4 L451.8,438.4 L456.2,422.4 L460.6,428.4 L465.0,439.4 L469.4,432.4 L473.8,427.4 L478.2,423.4 L482.6,420.4 L487.0,415.4 L492.0,419.4 L494.4,422.4 L498.8,436.0 L503.2,437.2 L507.6,436.0 L512.0,442.4 L516.4,449.0 L520.8,447.4 L525.2,439.4 L529.6,441.0 L534.0,449.4 L538.4,454.8 L542.8,452.4 L547.2,447.4 L551.7,440.4 L556.1,442.8 L560.5,438.0 L564.9,437.2 L569.3,444.4 L573.7,451.4 L578.1,447.4 L582.5,442.0 L586.9,440.0 L591.3,438.4 L595.7,434.4 L600.1,433.4 L603.3,437.4 L607.7,444.4 L612.1,447.8 L620.9,447.8 L625.3,449.4 L629.7,452.4 L634.1,456.4 L638.5,460.0 L656.1,460.0 L660.5,461.0 L665.0,461.0 L669.4,457.4 L673.8,453.4 L678.2,452.4 L682.6,454.0 L687.0,456.4 L691.4,458.8 L713.4,458.8 L718.0,458.8 L726.4,458.8 L730.8,456.4 L735.2,452.4 L739.6,444.4 L744.0,441.8 L752.8,441.8 L757.2,439.4 L761.6,435.8 L770.4,433.4 L774.9,432.4 L779.3,432.4 L783.7,430.8 L788.1,427.4 L792.5,422.4 L796.9,416.4 L801.3,410.8 L805.7,405.4 L808.9,403.8 L813.3,404.4 L817.7,407.0 L835.3,407.0 L839.7,404.4 L844.1,400.4 L848.5,396.3 L852.9,394.3 L861.7,392.7 L874.9,392.7 L879.3,391.7 L883.7,391.7 L888.2,390.3 L892.6,391.7 L901.4,391.7 L903.0,391.7 L914.0,388.9 L918.4,388.9 L927.2,385.3 L931.6,381.3 L936.0,378.9 L940.4,376.9 L944.8,376.9 L949.2,378.3 L957.4,381.7 L966.3,385.3 L975.1,388.9 L979.5,390.3 L983.9,390.3 L988.3,388.9 L997.1,388.9 L1001.5,385.3 L1005.9,381.3 L1010.3,376.3 L1014.7,371.7 L1019.1,369.9 L1023.5,371.7 L1027.9,373.7 L1032.3,374.7 L1036.7,373.3 L1045.5,373.3 L1049.9,378.3 L1054.3,385.3 L1058.7,392.3 L1063.1,397.4 L1067.5,400.4 L1071.9,402.4 L1083.8,402.4 L1083.8,467.5 Z" fill="rgba(128,128,128,0.21)"/><polyline points="118.5,349.3 122.9,350.3 127.3,352.7 131.7,363.7 136.1,367.3 140.5,370.9 144.9,370.3 149.1,362.7 153.5,367.3 158.1,359.3 162.1,360.9 166.5,362.3 170.9,351.9 175.3,363.7 179.7,351.9 184.1,356.3 188.3,359.7 192.7,363.7 197.1,367.3 201.5,360.3 205.9,365.3 210.2,383.9 214.6,398.4 219.0,377.3 223.4,413.8 227.8,429.4 232.2,446.8 236.4,436.0 240.8,436.0 245.2,433.4 249.4,436.8 253.8,403.4 258.2,417.4 262.6,400.4 266.0,398.4 271.2,386.7 275.6,390.3 280.0,398.4 284.4,423.4 288.8,417.4 293.2,432.8 297.6,412.0 302.0,444.4 306.4,421.4 310.8,400.0 315.2,389.3 319.6,405.4 324.1,415.4 328.5,420.0 332.9,400.0 337.3,387.3 341.7,376.3 346.1,397.4 350.5,427.4 354.9,435.4 359.3,452.4 363.7,460.4 368.1,458.8 372.5,452.4 376.9,447.4 381.3,442.4 385.7,416.4 390.1,416.4 394.5,424.4 398.9,430.4 403.3,420.4 407.7,442.4 412.1,450.0 416.5,455.4 420.9,456.0 425.3,456.4 429.7,447.4 434.1,446.4 438.6,444.4 443.0,442.8 447.4,441.4 451.8,438.4 456.2,422.4 460.6,428.4 465.0,439.4 469.4,432.4 473.8,427.4 478.2,423.4 482.6,420.4 487.0,415.4 492.0,419.4 494.4,422.4 498.8,436.0 503.2,437.2 507.6,436.0 512.0,442.4 516.4,449.0 520.8,447.4 525.2,439.4 529.6,441.0 534.0,449.4 538.4,454.8 542.8,452.4 547.2,447.4 551.7,440.4 556.1,442.8 560.5,438.0 564.9,437.2 569.3,444.4 573.7,451.4 578.1,447.4 582.5,442.0 586.9,440.0 591.3,438.4 595.7,434.4 600.1,433.4 603.3,437.4 607.7,444.4 612.1,447.8 620.9,447.8 625.3,449.4 629.7,452.4 634.1,456.4 638.5,460.0 656.1,460.0 660.5,461.0 665.0,461.0 669.4,457.4 673.8,453.4 678.2,452.4 682.6,454.0 687.0,456.4 691.4,458.8 713.4,458.8 718.0,458.8 726.4,458.8 730.8,456.4 735.2,452.4 739.6,444.4 744.0,441.8 752.8,441.8 757.2,439.4 761.6,435.8 770.4,433.4 774.9,432.4 779.3,432.4 783.7,430.8 788.1,427.4 792.5,422.4 796.9,416.4 801.3,410.8 805.7,405.4 808.9,403.8 813.3,404.4 817.7,407.0 835.3,407.0 839.7,404.4 844.1,400.4 848.5,396.3 852.9,394.3 861.7,392.7 874.9,392.7 879.3,391.7 883.7,391.7 888.2,390.3 892.6,391.7 901.4,391.7 903.0,391.7 914.0,388.9 918.4,388.9 927.2,385.3 931.6,381.3 936.0,378.9 940.4,376.9 944.8,376.9 949.2,378.3 957.4,381.7 966.3,385.3 975.1,388.9 979.5,390.3 983.9,390.3 988.3,388.9 997.1,388.9 1001.5,385.3 1005.9,381.3 1010.3,376.3 1014.7,371.7 1019.1,369.9 1023.5,371.7 1027.9,373.7 1032.3,374.7 1036.7,373.3 1045.5,373.3 1049.9,378.3 1054.3,385.3 1058.7,392.3 1063.1,397.4 1067.5,400.4 1071.9,402.4 1083.8,402.4" fill="none" stroke="#adadad" stroke-width="1" stroke-linejoin="round"/>
<path d="M118.5,467.5 L118.5,446.8 L122.9,454.8 L127.3,457.4 L131.7,463.4 L140.5,463.4 L149.1,455.4 L153.5,454.8 L162.1,450.0 L166.5,444.4 L170.9,445.4 L175.3,444.4 L179.7,454.0 L188.3,458.4 L197.1,462.8 L201.5,464.4 L210.2,466.8 L214.6,466.8 L219.0,465.8 L232.2,465.8 L240.8,461.0 L249.4,458.8 L253.8,457.8 L262.6,457.8 L266.0,457.8 L280.0,457.8 L284.4,460.4 L288.8,463.4 L293.2,464.8 L297.6,466.0 L302.0,467.0 L306.4,467.0 L310.8,465.4 L315.2,463.4 L319.6,462.0 L324.1,457.4 L328.5,448.4 L332.9,428.4 L337.3,444.4 L341.7,442.0 L346.1,449.4 L350.5,456.0 L354.9,454.8 L359.3,454.0 L363.7,458.8 L381.3,458.8 L385.7,459.8 L390.1,461.4 L394.5,463.4 L398.9,464.8 L403.3,466.0 L407.7,466.0 L412.1,467.0 L425.3,467.0 L429.7,466.0 L438.6,466.0 L443.0,464.8 L465.0,464.8 L469.4,466.0 L487.0,466.0 L492.0,466.0 L498.8,467.0 L551.7,467.0 L556.1,466.0 L560.5,467.0 L564.9,467.0 L569.3,457.4 L573.7,452.8 L582.5,452.8 L586.9,454.8 L591.3,454.8 L595.7,464.4 L600.1,458.8 L607.7,461.0 L612.1,464.8 L616.5,467.0 L620.9,467.0 L625.3,462.4 L629.7,463.8 L634.1,463.8 L638.5,464.8 L647.3,462.4 L651.7,466.0 L660.5,466.0 L665.0,464.8 L673.8,464.8 L678.2,459.8 L682.6,459.8 L687.0,458.8 L691.4,463.8 L700.2,463.8 L704.6,464.8 L709.0,464.8 L713.4,466.0 L718.0,459.8 L726.4,461.0 L730.8,463.8 L739.6,463.8 L744.0,464.8 L748.4,464.8 L752.8,463.8 L757.2,466.0 L774.9,466.0 L779.3,463.8 L783.7,461.0 L788.1,459.8 L796.9,459.8 L801.3,458.8 L804.5,458.8 L808.9,445.4 L817.7,445.4 L822.1,441.0 L826.5,442.0 L830.9,442.0 L835.3,438.4 L839.7,439.4 L844.1,439.4 L848.5,438.4 L883.7,438.4 L888.2,429.8 L892.6,429.8 L896.6,428.4 L901.0,438.4 L903.0,438.4 L914.0,438.4 L918.4,428.4 L922.8,426.0 L927.2,423.8 L931.6,423.8 L936.0,425.0 L940.4,427.8 L944.8,438.4 L949.2,438.4 L953.6,439.4 L958.0,438.4 L988.3,438.4 L992.7,439.4 L997.1,438.4 L1001.5,428.4 L1005.9,422.0 L1010.3,420.4 L1014.7,419.4 L1019.1,422.8 L1023.5,425.4 L1027.9,428.4 L1032.3,438.4 L1041.1,438.4 L1045.5,427.8 L1063.1,427.8 L1067.5,428.4 L1070.7,446.4 L1075.2,445.4 L1079.6,445.4 L1083.8,444.4 L1083.8,467.5 Z" fill="rgba(25,167,219,0.31)"/><polyline points="118.5,446.8 122.9,454.8 127.3,457.4 131.7,463.4 140.5,463.4 149.1,455.4 153.5,454.8 162.1,450.0 166.5,444.4 170.9,445.4 175.3,444.4 179.7,454.0 188.3,458.4 197.1,462.8 201.5,464.4 210.2,466.8 214.6,466.8 219.0,465.8 232.2,465.8 240.8,461.0 249.4,458.8 253.8,457.8 262.6,457.8 266.0,457.8 280.0,457.8 284.4,460.4 288.8,463.4 293.2,464.8 297.6,466.0 302.0,467.0 306.4,467.0 310.8,465.4 315.2,463.4 319.6,462.0 324.1,457.4 328.5,448.4 332.9,428.4 337.3,444.4 341.7,442.0 346.1,449.4 350.5,456.0 354.9,454.8 359.3,454.0 363.7,458.8 381.3,458.8 385.7,459.8 390.1,461.4 394.5,463.4 398.9,464.8 403.3,466.0 407.7,466.0 412.1,467.0 425.3,467.0 429.7,466.0 438.6,466.0 443.0,464.8 465.0,464.8 469.4,466.0 487.0,466.0 492.0,466.0 498.8,467.0 551.7,467.0 556.1,466.0 560.5,467.0 564.9,467.0 569.3,457.4 573.7,452.8 582.5,452.8 586.9,454.8 591.3,454.8 595.7,464.4 600.1,458.8 607.7,461.0 612.1,464.8 616.5,467.0 620.9,467.0 625.3,462.4 629.7,463.8 634.1,463.8 638.5,464.8 647.3,462.4 651.7,466.0 660.5,466.0 665.0,464.8 673.8,464.8 678.2,459.8 682.6,459.8 687.0,458.8 691.4,463.8 700.2,463.8 704.6,464.8 709.0,464.8 713.4,466.0 718.0,459.8 726.4,461.0 730.8,463.8 739.6,463.8 744.0,464.8 748.4,464.8 752.8,463.8 757.2,466.0 774.9,466.0 779.3,463.8 783.7,461.0 788.1,459.8 796.9,459.8 801.3,458.8 804.5,458.8 808.9,445.4 817.7,445.4 822.1,441.0 826.5,442.0 830.9,442.0 835.3,438.4 839.7,439.4 844.1,439.4 848.5,438.4 883.7,438.4 888.2,429.8 892.6,429.8 896.6,428.4 901.0,438.4 903.0,438.4 914.0,438.4 918.4,428.4 922.8,426.0 927.2,423.8 931.6,423.8 936.0,425.0 940.4,427.8 944.8,438.4 949.2,438.4 953.6,439.4 958.0,438.4 988.3,438.4 992.7,439.4 997.1,438.4 1001.5,428.4 1005.9,422.0 1010.3,420.4 1014.7,419.4 1019.1,422.8 1023.5,425.4 1027.9,428.4 1032.3,438.4 1041.1,438.4 1045.5,427.8 1063.1,427.8 1067.5,428.4 1070.7,446.4 1075.2,445.4 1079.6,445.4 1083.8,444.4" fill="none" stroke="#29a9df" stroke-width="1.1" stroke-linejoin="round"/>
<polyline points="40.0,402.4 44.4,396.3 48.6,394.7 53.0,392.7 57.4,391.7 66.0,384.3 70.0,384.3 75.0,382.9 79.4,382.9 83.6,385.9 88.0,388.9 92.4,391.7 96.9,388.9 101.1,383.3 105.7,370.3 110.1,358.3 114.5,355.9 122.9,355.9 127.3,352.7 131.7,360.3 136.1,357.3 140.5,354.3 144.9,355.7 149.1,355.7 153.5,354.3 158.1,354.3 162.1,355.9 166.5,357.3 170.9,357.9 175.3,358.3 179.7,360.3 184.1,364.3 188.3,369.3 192.7,376.3 197.1,386.3 201.5,392.7 205.9,396.7 210.2,399.4 214.6,402.4 219.0,404.8 223.4,403.8 227.8,403.8 232.2,399.4 236.4,392.7 240.8,384.3 245.2,374.3 249.4,368.3 253.8,363.3 258.2,361.3 262.6,361.3 266.0,365.3 271.2,362.3 275.6,359.9 280.0,361.3 284.4,367.9 288.8,379.3 293.2,390.3 297.6,400.4 302.0,409.4 306.4,414.8 310.8,416.4 315.2,414.8 319.6,412.0 324.1,410.8 328.5,409.4 332.9,406.4 337.3,398.4 341.7,390.3 346.1,382.3 350.5,375.3 354.9,371.3 359.3,370.3 363.7,366.7 368.1,365.3 372.5,367.3 376.9,366.3 381.3,365.3 385.7,366.3 390.1,374.3 394.5,382.3 398.9,396.3 403.3,408.4 407.7,417.4 412.1,423.4 416.5,426.4 420.9,428.4 425.3,429.8 429.7,430.4 434.1,429.8 438.6,428.4 443.0,425.4 447.4,417.4 451.8,410.4 456.2,405.4 460.6,401.4 465.0,397.4 469.4,394.7 473.8,396.3 478.2,394.7 482.6,391.9 487.0,390.3 492.0,393.3 496.4,398.4 500.8,408.4 505.2,417.4 509.6,424.4 516.4,431.4 525.2,436.0 534.0,437.2 542.8,434.4 547.2,429.4 551.7,422.8 556.1,414.8 560.5,407.4 564.9,400.4 569.3,396.7 573.7,393.9 582.5,393.9 590.1,394.9 594.5,397.4 598.9,402.4 603.3,410.4 607.7,419.4 612.1,424.4 616.5,427.8 620.9,429.8 625.3,431.4 629.7,433.2 638.5,433.2 642.9,432.4 647.3,430.4 651.7,426.4 656.1,419.4 660.5,410.4 665.0,404.0 669.4,398.4 673.8,395.9 678.2,393.3 682.6,391.3 687.0,389.9 691.4,388.9 695.8,386.9 700.2,386.9 704.6,390.3 709.0,398.4 713.4,406.4 718.0,415.4 722.0,422.4 726.4,427.8 730.8,431.8 739.6,432.4 744.0,433.4 748.4,433.4 752.8,431.8 757.2,428.4 761.6,424.8 766.0,419.4 770.4,411.4 774.9,406.0 779.3,402.4 783.7,399.4 788.1,397.4 792.5,393.9 796.9,390.3 800.1,388.3 804.5,388.3 808.9,392.3 813.3,397.4 817.7,402.4 822.1,407.4 826.5,410.8 830.9,411.8 835.3,413.4 839.7,411.8 844.1,412.4 848.5,413.4 852.9,411.8 857.3,409.4 861.7,407.0 866.1,403.4 870.5,396.3 874.9,389.7 879.3,387.3 883.7,385.3 888.2,382.7 892.6,380.3 897.0,379.3 901.4,378.3 903.0,376.3 907.4,373.7 911.8,373.3 916.2,375.3 922.8,379.9 927.2,381.3 931.6,385.7 936.0,385.7 940.4,389.3 949.2,394.7 953.6,396.3 961.9,401.0 966.3,399.8 970.7,395.3 975.1,389.7 979.5,384.3 983.9,379.3 988.3,376.7 992.7,373.7 997.1,371.3 1001.5,369.9 1005.9,366.3 1010.3,365.3 1014.7,363.9 1019.1,366.3 1023.5,373.3 1027.9,382.3 1032.3,390.3 1036.7,396.3 1041.1,399.4 1045.5,400.4 1049.9,404.0 1054.3,404.8 1058.7,405.8 1063.1,404.8 1067.5,403.4 1071.9,396.3 1076.4,390.3 1080.8,383.3 1083.8,377.3" fill="none" stroke="#84c100" stroke-width="2" stroke-linejoin="round"/>
<polyline points="40.0,349.3 44.4,349.3 53.0,354.9 70.0,354.9 75.0,357.9 79.4,357.9 88.0,363.3 96.9,363.3 101.1,365.7 105.7,365.7 110.1,371.3 122.9,371.3 127.3,368.3 131.7,371.3 140.5,365.7 144.9,368.3 149.1,368.3 153.5,371.3 170.9,360.3 179.7,360.3 184.1,363.3 188.3,363.3 192.7,368.3 197.1,368.3 219.0,381.7 223.4,381.7 232.2,387.3 236.4,387.3 240.8,384.7 245.2,384.7 258.2,392.7 266.0,402.0 271.2,405.4 280.0,405.4 284.4,410.8 288.8,416.0 293.2,418.8 297.6,426.8 302.0,432.0 310.8,442.8 315.2,446.0 319.6,451.0 324.1,456.4 328.5,461.4 332.9,464.4 337.3,464.4 341.7,461.8 346.1,459.0 350.5,459.0 354.9,456.4 363.7,456.4 381.3,446.0 385.7,440.4 394.5,434.8 412.1,434.8 429.7,445.4 434.1,445.4 438.6,442.8 443.0,440.4 447.4,437.8 451.8,434.8 456.2,432.4 460.6,432.4 465.0,429.6 469.4,429.6 473.8,426.8 478.2,426.8 482.6,424.0 487.0,421.4 492.0,415.4 503.2,408.4 507.6,410.8 516.4,410.8 520.8,413.8 525.2,413.8 529.6,416.4 538.4,416.4 556.1,405.4 560.5,400.4 564.9,400.4 569.3,397.8 573.7,397.8 578.1,394.9 582.5,394.9 590.1,389.7 594.5,384.3 598.9,381.7 616.5,381.7 620.9,384.3 625.3,384.3 634.1,389.7 647.3,389.7 669.4,376.3 673.8,376.3 704.6,357.7 713.4,357.7 718.0,360.3 735.2,370.9 739.6,376.3 744.0,379.3 752.8,384.7 756.4,384.7 760.8,378.9 765.2,376.3 813.3,376.3 817.7,378.9 822.1,378.9 826.5,384.7 839.7,392.7 844.1,397.8 848.5,400.4 852.9,400.4 857.3,403.4 866.1,403.4 870.5,400.4 896.6,400.4 901.0,403.4 905.4,400.4 927.2,400.4 936.0,405.8 940.4,405.8 944.8,408.4 949.2,408.4 957.4,413.8 970.7,413.8 979.5,408.4 997.1,408.4 1001.5,405.8 1067.5,405.8 1071.9,403.0 1076.4,403.0 1083.8,398.0" fill="none" stroke="#1e2023" stroke-width="2" stroke-linejoin="round"/>
<polyline points="40.0,279.0 44.4,279.0 48.6,277.0 53.0,277.0 57.4,275.0 70.0,275.0 75.0,273.0 79.4,273.0 88.0,269.0 92.4,269.0 96.9,267.0 101.1,267.0 105.7,261.0 110.1,259.0 118.5,259.0 122.9,257.0 127.3,259.0 136.1,263.0 140.5,263.0 149.1,267.0 153.5,267.0 162.1,271.0 175.3,271.0 179.7,269.0 184.1,269.0 192.7,265.0 197.1,267.0 201.5,267.0 205.9,269.0 214.6,269.0 219.0,271.0 223.4,271.0 227.8,273.0 232.2,271.0 236.4,273.0 240.8,271.0 253.8,271.0 258.2,273.0 262.6,273.0 266.0,275.0 275.6,275.0 280.0,273.0 288.8,269.0 297.6,269.0 306.4,273.0 310.8,273.0 324.1,267.0 328.5,269.0 337.3,265.0 341.7,267.0 346.1,265.0 354.9,265.0 368.1,271.0 372.5,275.0 381.3,279.0 390.1,279.0 403.3,285.0 407.7,289.0 420.9,295.0 425.3,295.0 434.1,299.0 443.0,299.0 447.4,297.0 469.4,297.0 473.8,299.0 487.0,299.0 492.0,296.0 498.8,293.0 503.2,293.0 507.6,295.0 512.0,295.0 520.8,299.0 529.6,299.0 534.0,301.0 538.4,301.0 547.2,297.0 551.7,297.0 560.5,293.0 564.9,293.0 569.3,291.0 573.7,291.0 581.3,295.0 594.5,295.0 603.3,287.0 607.7,285.0 616.5,277.0 620.9,275.0 629.7,275.0 638.5,271.0 642.9,271.0 647.3,269.0 651.7,265.0 656.1,265.0 660.5,263.0 695.8,263.0 704.6,259.0 709.0,259.0 713.4,257.0 718.0,259.4 722.0,261.4 726.4,263.4 730.8,267.0 744.0,267.0 748.4,269.0 752.8,269.0 757.2,267.0 761.6,267.0 766.0,265.0 769.6,261.0 774.0,261.0 778.5,259.0 791.7,259.0 800.1,255.0 804.5,255.0 808.9,253.0 817.7,249.0 822.1,249.0 826.5,247.0 830.9,247.0 835.3,245.0 848.1,245.0 852.5,247.0 865.7,247.0 870.1,245.0 896.6,245.0 901.0,243.0 903.0,243.4 918.4,243.4 922.8,240.9 931.6,240.9 936.0,238.9 940.4,240.9 948.6,245.0 957.4,253.4 961.9,255.4 970.7,259.4 983.9,259.4 988.3,257.0 992.7,257.0 997.1,259.4 1014.7,259.4 1019.1,257.0 1027.9,257.0 1036.7,261.4 1045.5,261.4 1049.9,263.4 1054.3,263.4 1058.7,265.4 1083.8,265.4" fill="none" stroke="#4f9d44" stroke-width="1.9" stroke-linejoin="round"/>
<polyline points="40.0,245.4 44.4,249.0 48.6,247.0 53.0,249.0 57.4,249.0 61.6,252.4 66.0,253.0 70.0,255.0 75.0,253.0 79.4,253.0 88.0,245.0 92.4,245.0 96.9,243.4 101.1,245.4 110.1,252.4 114.5,253.4 118.5,255.0 122.9,254.4 127.3,257.0 131.7,255.4 136.1,257.8 140.5,261.4 144.9,262.4 149.1,265.4 153.5,266.4 158.1,268.4 162.1,270.4 166.5,271.4 170.9,271.4 175.3,270.4 179.7,267.4 184.1,264.4 188.3,259.4 192.7,253.4 197.1,245.4 201.5,240.3 205.9,238.5 214.6,234.9 219.0,234.9 223.4,236.9 227.8,236.9 232.2,241.3 236.4,246.4 240.8,251.4 245.2,257.0 253.8,265.0 258.2,265.0 262.6,267.0 266.0,267.0 270.4,269.0 275.6,269.0 280.0,267.0 284.4,259.0 288.8,251.0 293.2,245.0 297.6,236.9 302.0,228.9 306.4,224.9 310.8,222.9 315.2,222.9 319.6,224.9 324.1,224.9 328.5,226.9 332.9,228.9 337.3,233.3 341.7,240.3 346.1,247.0 350.5,253.0 354.9,257.0 359.3,259.0 363.7,263.0 368.1,267.0 372.5,269.0 376.9,273.0 381.3,275.4 385.7,275.4 390.1,271.4 394.5,267.0 398.9,259.0 403.3,249.0 407.7,242.4 412.1,237.7 416.5,235.1 420.9,232.9 429.7,232.9 434.1,234.9 438.6,237.3 443.0,242.4 447.4,250.4 451.8,257.0 456.2,262.4 460.6,267.0 465.0,271.0 469.4,273.0 473.8,273.0 478.2,275.0 482.6,275.0 487.0,275.0 492.0,271.0 494.4,269.0 498.8,261.0 503.2,253.0 507.6,245.0 512.0,236.9 516.4,232.9 520.8,228.9 525.2,226.9 529.6,224.9 534.0,224.9 538.4,226.9 542.8,228.9 547.2,234.9 551.7,243.0 556.1,249.0 560.5,255.0 564.9,259.0 569.3,263.0 573.7,265.0 578.1,267.0 581.3,269.0 590.1,269.0 594.5,267.8 598.9,260.4 603.3,247.4 607.7,234.9 612.1,222.9 616.5,214.9 620.9,208.9 625.3,204.9 629.7,200.9 634.1,198.9 638.5,196.9 642.9,198.9 647.3,200.9 651.7,204.9 656.1,212.9 660.5,220.9 665.0,226.9 669.4,230.9 673.8,232.9 678.2,234.9 682.6,236.9 687.0,238.9 700.2,238.9 704.6,234.9 709.0,226.9 713.4,220.3 718.0,208.9 722.0,204.3 726.4,198.9 730.8,195.9 735.2,194.9 739.6,194.9 743.2,193.3 747.6,195.3 752.0,197.3 756.4,200.9 760.8,205.7 765.2,211.7 769.6,216.9 774.0,221.3 778.5,223.3 782.9,225.3 787.3,227.3 791.7,229.3 795.7,232.9 800.1,232.9 804.5,230.9 808.9,226.9 813.3,219.3 817.7,209.3 822.1,204.9 826.5,198.9 830.9,196.9 835.3,194.9 848.1,194.9 852.5,196.9 856.9,200.9 861.3,202.9 865.7,204.9 870.1,208.9 874.5,216.9 878.9,218.9 883.3,220.9 887.8,222.3 892.2,222.9 896.6,224.3 901.0,224.9 903.0,226.3 905.4,226.9 914.0,226.9 918.4,225.3 922.8,222.9 927.2,218.9 931.6,214.9 936.0,214.9 940.4,208.9 944.8,208.9 948.6,214.9 953.0,217.3 957.4,219.3 961.9,221.3 966.3,223.3 970.7,228.9 975.1,233.3 979.5,237.3 983.9,239.3 988.3,241.3 992.7,245.8 997.1,247.4 1001.5,249.4 1005.9,251.4 1010.3,253.4 1014.7,253.0 1019.1,251.0 1023.5,245.8 1027.9,240.3 1032.3,235.3 1036.7,230.9 1041.1,228.9 1045.5,228.9 1049.9,226.9 1058.7,226.9 1063.1,228.9 1067.5,231.3 1071.9,235.3 1076.4,239.3 1080.8,245.4 1083.8,249.0" fill="none" stroke="#a651a6" stroke-width="1.9" stroke-linejoin="round"/>
<polyline points="40.0,247.8 44.4,249.4 53.0,249.4 57.4,251.4 66.0,255.0 70.0,255.0 75.0,253.0 79.4,253.0 88.0,245.0 92.4,245.0 96.9,243.4 101.1,245.4 110.1,253.4 114.5,255.0 118.5,255.0 122.9,253.4 127.3,257.0 131.7,255.0 136.1,257.4 140.5,261.0 144.9,261.0 149.1,263.0 153.5,265.0 158.1,265.0 162.1,267.0 175.3,267.0 179.7,263.0 184.1,261.0 192.7,249.0 201.5,238.9 205.9,238.9 214.6,234.9 219.0,234.9 223.4,236.9 227.8,236.9 236.4,245.0 245.2,256.4 253.8,265.0 258.2,265.0 262.6,267.0 266.0,267.0 270.4,269.0 275.6,269.0 280.0,267.0 284.4,259.0 288.8,251.0 293.2,245.0 297.6,236.9 302.0,228.9 306.4,224.9 310.8,222.9 315.2,222.9 319.6,224.9 324.1,224.9 328.5,226.9 332.9,228.9 337.3,232.9 341.7,238.9 346.1,245.0 350.5,251.0 354.9,253.0 359.3,255.0 363.7,259.0 368.1,261.0 372.5,265.0 376.9,267.0 381.3,271.0 385.7,271.0 390.1,265.0 394.5,263.0 398.9,255.0 403.3,247.0 407.7,240.9 412.1,236.9 416.5,234.9 420.9,232.9 429.7,232.9 434.1,234.9 438.6,236.9 443.0,240.9 447.4,249.0 451.8,255.0 456.2,261.0 460.6,265.0 465.0,267.0 469.4,271.0 473.8,271.0 478.2,273.0 482.6,275.0 487.0,275.0 492.0,271.0 494.4,269.0 498.8,261.0 503.2,253.0 507.6,245.0 512.0,236.9 516.4,232.9 520.8,228.9 525.2,226.9 529.6,224.9 534.0,224.9 538.4,226.9 542.8,228.9 547.2,234.9 551.7,243.0 556.1,249.0 560.5,255.0 564.9,259.0 569.3,263.0 573.7,265.0 578.1,267.0 581.3,269.0 590.1,269.0 594.5,267.0 598.9,259.0 603.3,247.0 607.7,234.9 612.1,222.9 616.5,214.9 620.9,208.9 625.3,204.9 629.7,200.9 634.1,198.9 638.5,196.9 642.9,198.9 647.3,200.9 651.7,204.9 656.1,212.9 660.5,220.9 665.0,226.9 669.4,230.9 673.8,232.9 678.2,234.9 682.6,236.9 687.0,238.9 700.2,238.9 704.6,234.9 709.0,226.9 713.4,220.9 718.0,210.9 722.0,204.9 726.4,198.9 730.8,195.9 735.2,194.9 739.6,194.9 743.2,193.3 747.6,195.3 752.0,197.3 756.4,201.3 760.8,206.9 765.2,212.9 769.6,217.3 774.0,221.3 778.5,223.3 782.9,225.3 787.3,227.3 791.7,229.3 795.7,232.9 800.1,232.9 804.5,230.9 808.9,226.9 813.3,221.3 817.7,215.3 822.1,209.3 826.5,203.3 830.9,200.9 835.3,198.9 848.1,198.9 852.5,200.9 856.9,202.9 861.3,204.9 865.7,208.9 870.1,214.9 874.5,218.9 878.9,220.9 883.3,221.3 887.8,223.3 892.2,224.9 896.6,225.3 901.0,226.9 903.0,228.3 905.4,228.9 914.0,228.9 918.4,226.9 922.8,223.3 927.2,220.9 931.6,217.3 936.0,216.9 940.4,215.3 948.6,215.3 953.0,217.3 957.4,219.3 961.9,221.3 966.3,223.3 970.7,228.9 975.1,233.3 979.5,237.3 983.9,239.3 988.3,241.3 992.7,245.0 997.1,245.0 1001.5,247.0 1005.9,249.0 1010.3,251.0 1014.7,251.0 1019.1,249.0 1023.5,244.4 1027.9,238.9 1032.3,234.9 1036.7,230.9 1041.1,228.9 1045.5,228.9 1049.9,226.9 1058.7,226.9 1063.1,228.9 1067.5,231.3 1071.9,235.3 1076.4,239.3 1080.8,245.4 1083.8,249.0" fill="none" stroke="#d5202a" stroke-width="2.1" stroke-linejoin="round"/>
<path d="M118.6,625 L118.6,625.0 L328.5,625.0 L332.6,622.4 L336.9,625.0 L857.0,625.0 L883.0,625.0 L887.4,622.4 L896.2,622.4 L900.6,625.0 L913.9,625.0 L918.3,622.4 L931.5,622.0 L935.5,620.0 L939.9,622.4 L944.3,625.0 L996.7,625.0 L1001.1,622.4 L1005.5,620.0 L1009.9,620.0 L1014.3,622.4 L1027.6,622.4 L1032.0,625.0 L1040.8,625.0 L1045.2,622.4 L1067.2,622.4 L1071.6,625.0 L1083.0,625.0 L1083.0,625 Z" fill="rgba(40,120,20,0.22)"/>
<polyline points="118.6,625.0 328.5,625.0 332.6,622.4 336.9,625.0 857.0,625.0 883.0,625.0 887.4,622.4 896.2,622.4 900.6,625.0 913.9,625.0 918.3,622.4 931.5,622.0 935.5,620.0 939.9,622.4 944.3,625.0 996.7,625.0 1001.1,622.4 1005.5,620.0 1009.9,620.0 1014.3,622.4 1027.6,622.4 1032.0,625.0 1040.8,625.0 1045.2,622.4 1067.2,622.4 1071.6,625.0 1083.0,625.0" fill="none" stroke="#1c6e0c" stroke-width="1.9" stroke-linejoin="round"/>
<polyline points="101.4,622.3 105.9,620.0 110.2,607.2 114.2,598.9" fill="none" stroke="#1487c0" stroke-width="1.7" stroke-linejoin="round" stroke-linecap="round"/>
<polyline points="40.3,749.9 44.7,741.4 57.8,741.4 62.1,732.8 66.5,749.9 70.9,741.4 75.2,741.4 79.6,732.8 84.0,732.8 92.7,715.7 97.1,741.4 101.4,767.0 105.8,732.8 110.2,741.4 114.5,758.5 118.9,758.5 127.6,741.4 136.4,758.5 140.7,758.5 145.1,758.5 149.5,749.9 162.6,749.9 166.9,741.4 175.7,741.4 180.0,732.8 184.4,732.8 188.8,724.2 193.1,724.2 197.5,715.7 201.9,698.6 219.3,698.6 223.7,707.1 228.1,707.1 232.4,724.2 236.8,732.8 241.2,749.9 249.9,767.0 254.3,758.5 258.6,758.5 263.0,767.0 267.4,758.5 271.8,767.0 276.1,767.0 280.5,758.5 284.9,758.5 289.2,749.9 293.6,732.8 298.0,724.2 302.3,715.7 306.7,690.0 311.1,681.5 319.8,681.5 324.2,690.0 328.5,681.5 332.9,690.0 337.3,698.6 341.6,707.1 346.0,715.7 350.4,724.2 354.7,715.7 372.2,715.7 376.6,724.2 389.7,724.2 398.4,715.7 402.8,715.7 407.1,707.1 411.5,698.6 420.2,698.6 424.6,690.0 437.7,690.0 442.1,698.6 446.4,715.7 450.8,732.8 455.2,741.4 459.5,749.9 468.3,749.9 472.6,758.5 481.4,758.5 485.7,767.0 490.1,767.0 494.5,767.0 498.8,758.5 503.2,749.9 507.6,741.4 511.9,732.8 516.3,724.2 520.7,732.8 525.0,724.2 529.4,715.7 542.5,715.7 546.9,724.2 551.2,732.8 555.6,749.9 560.0,758.5 564.3,767.0 573.1,767.0 577.4,758.5 590.5,758.5 594.9,749.9 599.3,741.4 603.6,741.4 608.0,732.8 612.4,724.2 616.7,724.2 621.1,715.7 629.8,715.7 634.2,707.1 638.6,715.7 642.9,715.7 647.3,724.2 651.7,732.8 656.0,732.8 660.4,741.4 664.8,741.4 669.1,732.8 673.5,724.2 691.0,724.2 695.3,732.8 699.7,724.2 708.5,724.2 712.8,707.1 717.2,698.6 721.6,690.0 725.9,673.0 730.3,673.0 734.7,681.5 739.0,673.0 743.4,681.5 752.1,681.5 756.5,690.0 760.9,698.6 774.0,698.6 778.3,690.0 782.7,698.6 791.4,698.6 795.8,707.1 800.2,707.1 804.5,698.6 813.3,698.6 817.6,681.5 822.0,681.5 826.4,673.0 830.7,664.4 843.8,664.4 848.2,673.0 852.6,673.0 856.9,681.5 861.3,690.0 865.7,698.6 870.0,715.7 900.6,715.7 905.0,724.2 909.3,715.7 913.7,715.7 918.1,707.1 922.4,698.6 926.8,698.6 931.2,690.0 939.9,690.0 957.4,690.0 961.7,698.6 966.1,707.1 970.5,715.7 974.8,724.2 983.6,724.2 987.9,732.8 996.7,732.8 1001.0,724.2 1009.8,724.2 1014.1,715.7 1018.5,715.7 1022.9,707.1 1027.2,698.6 1031.6,690.0 1036.0,690.0 1040.3,681.5 1044.7,681.5 1049.1,690.0 1057.8,690.0 1062.2,698.6 1066.5,698.6 1070.9,707.1 1075.3,715.7 1079.6,732.8 1084.0,732.8" fill="none" stroke="#2e73c6" stroke-width="1" stroke-linejoin="round"/>
<g clip-path="url(#c4)">
<path transform="translate(40.3,749.9) rotate(145)" d="M6.6,0L-6.2,-4.2L-2.9,0L-6.2,4.2Z" fill="#064eaa"/>
<path transform="translate(57.8,741.4) rotate(135)" d="M6.6,0L-6.2,-4.2L-2.9,0L-6.2,4.2Z" fill="#064eaa"/>
<path transform="translate(75.2,741.4) rotate(149)" d="M6.6,0L-6.2,-4.2L-2.9,0L-6.2,4.2Z" fill="#064eaa"/>
<path transform="translate(92.7,715.7) rotate(174)" d="M6.6,0L-6.2,-4.2L-2.9,0L-6.2,4.2Z" fill="#064eaa"/>
<path transform="translate(110.2,741.4) rotate(102)" d="M6.6,0L-6.2,-4.2L-2.9,0L-6.2,4.2Z" fill="#064eaa"/>
<path transform="translate(127.6,741.4) rotate(21)" d="M6.6,0L-6.2,-4.2L-2.9,0L-6.2,4.2Z" fill="#064eaa"/>
<path transform="translate(145.1,758.5) rotate(-5)" d="M6.6,0L-6.2,-4.2L-2.9,0L-6.2,4.2Z" fill="#064eaa"/>
<path transform="translate(162.6,749.9) rotate(-13)" d="M6.6,0L-6.2,-4.2L-2.9,0L-6.2,4.2Z" fill="#064eaa"/>
<path transform="translate(180.0,732.8) rotate(-3)" d="M6.6,0L-6.2,-4.2L-2.9,0L-6.2,4.2Z" fill="#064eaa"/>
<path transform="translate(197.5,715.7) rotate(7)" d="M6.6,0L-6.2,-4.2L-2.9,0L-6.2,4.2Z" fill="#064eaa"/>
<path transform="translate(215.0,698.6) rotate(15)" d="M6.6,0L-6.2,-4.2L-2.9,0L-6.2,4.2Z" fill="#064eaa"/>
<path transform="translate(232.4,724.2) rotate(23)" d="M6.6,0L-6.2,-4.2L-2.9,0L-6.2,4.2Z" fill="#064eaa"/>
<path transform="translate(249.9,767.0) rotate(7)" d="M6.6,0L-6.2,-4.2L-2.9,0L-6.2,4.2Z" fill="#064eaa"/>
<path transform="translate(267.4,758.5) rotate(5)" d="M6.6,0L-6.2,-4.2L-2.9,0L-6.2,4.2Z" fill="#064eaa"/>
<path transform="translate(284.9,758.5) rotate(0)" d="M6.6,0L-6.2,-4.2L-2.9,0L-6.2,4.2Z" fill="#064eaa"/>
<path transform="translate(302.3,715.7) rotate(12)" d="M6.6,0L-6.2,-4.2L-2.9,0L-6.2,4.2Z" fill="#064eaa"/>
<path transform="translate(319.8,681.5) rotate(18)" d="M6.6,0L-6.2,-4.2L-2.9,0L-6.2,4.2Z" fill="#064eaa"/>
<path transform="translate(337.3,698.6) rotate(27)" d="M6.6,0L-6.2,-4.2L-2.9,0L-6.2,4.2Z" fill="#064eaa"/>
<path transform="translate(354.7,715.7) rotate(39)" d="M6.6,0L-6.2,-4.2L-2.9,0L-6.2,4.2Z" fill="#064eaa"/>
<path transform="translate(372.2,715.7) rotate(54)" d="M6.6,0L-6.2,-4.2L-2.9,0L-6.2,4.2Z" fill="#064eaa"/>
<path transform="translate(389.7,724.2) rotate(65)" d="M6.6,0L-6.2,-4.2L-2.9,0L-6.2,4.2Z" fill="#064eaa"/>
<path transform="translate(407.1,707.1) rotate(64)" d="M6.6,0L-6.2,-4.2L-2.9,0L-6.2,4.2Z" fill="#064eaa"/>
<path transform="translate(424.6,690.0) rotate(53)" d="M6.6,0L-6.2,-4.2L-2.9,0L-6.2,4.2Z" fill="#064eaa"/>
<path transform="translate(442.1,698.6) rotate(36)" d="M6.6,0L-6.2,-4.2L-2.9,0L-6.2,4.2Z" fill="#064eaa"/>
<path transform="translate(459.5,749.9) rotate(43)" d="M6.6,0L-6.2,-4.2L-2.9,0L-6.2,4.2Z" fill="#064eaa"/>
<path transform="translate(477.0,758.5) rotate(62)" d="M6.6,0L-6.2,-4.2L-2.9,0L-6.2,4.2Z" fill="#064eaa"/>
<path transform="translate(494.5,767.0) rotate(60)" d="M6.6,0L-6.2,-4.2L-2.9,0L-6.2,4.2Z" fill="#064eaa"/>
<path transform="translate(511.9,732.8) rotate(58)" d="M6.6,0L-6.2,-4.2L-2.9,0L-6.2,4.2Z" fill="#064eaa"/>
<path transform="translate(529.4,715.7) rotate(46)" d="M6.6,0L-6.2,-4.2L-2.9,0L-6.2,4.2Z" fill="#064eaa"/>
<path transform="translate(546.9,724.2) rotate(30)" d="M6.6,0L-6.2,-4.2L-2.9,0L-6.2,4.2Z" fill="#064eaa"/>
<path transform="translate(564.3,767.0) rotate(-4)" d="M6.6,0L-6.2,-4.2L-2.9,0L-6.2,4.2Z" fill="#064eaa"/>
<path transform="translate(581.8,758.5) rotate(-44)" d="M6.6,0L-6.2,-4.2L-2.9,0L-6.2,4.2Z" fill="#064eaa"/>
<path transform="translate(599.3,741.4) rotate(-52)" d="M6.6,0L-6.2,-4.2L-2.9,0L-6.2,4.2Z" fill="#064eaa"/>
<path transform="translate(616.7,724.2) rotate(-22)" d="M6.6,0L-6.2,-4.2L-2.9,0L-6.2,4.2Z" fill="#064eaa"/>
<path transform="translate(634.2,707.1) rotate(-8)" d="M6.6,0L-6.2,-4.2L-2.9,0L-6.2,4.2Z" fill="#064eaa"/>
<path transform="translate(651.7,732.8) rotate(-28)" d="M6.6,0L-6.2,-4.2L-2.9,0L-6.2,4.2Z" fill="#064eaa"/>
<path transform="translate(669.1,732.8) rotate(-62)" d="M6.6,0L-6.2,-4.2L-2.9,0L-6.2,4.2Z" fill="#064eaa"/>
<path transform="translate(686.6,724.2) rotate(-59)" d="M6.6,0L-6.2,-4.2L-2.9,0L-6.2,4.2Z" fill="#064eaa"/>
<path transform="translate(704.1,724.2) rotate(-68)" d="M6.6,0L-6.2,-4.2L-2.9,0L-6.2,4.2Z" fill="#064eaa"/>
<path transform="translate(721.6,690.0) rotate(-70)" d="M6.6,0L-6.2,-4.2L-2.9,0L-6.2,4.2Z" fill="#064eaa"/>
<path transform="translate(739.0,673.0) rotate(-66)" d="M6.6,0L-6.2,-4.2L-2.9,0L-6.2,4.2Z" fill="#064eaa"/>
<path transform="translate(756.5,690.0) rotate(-80)" d="M6.6,0L-6.2,-4.2L-2.9,0L-6.2,4.2Z" fill="#064eaa"/>
<path transform="translate(774.0,698.6) rotate(-72)" d="M6.6,0L-6.2,-4.2L-2.9,0L-6.2,4.2Z" fill="#064eaa"/>
<path transform="translate(791.4,698.6) rotate(-72)" d="M6.6,0L-6.2,-4.2L-2.9,0L-6.2,4.2Z" fill="#064eaa"/>
<path transform="translate(808.9,698.6) rotate(-69)" d="M6.6,0L-6.2,-4.2L-2.9,0L-6.2,4.2Z" fill="#064eaa"/>
<path transform="translate(826.4,673.0) rotate(-58)" d="M6.6,0L-6.2,-4.2L-2.9,0L-6.2,4.2Z" fill="#064eaa"/>
<path transform="translate(843.8,664.4) rotate(-55)" d="M6.6,0L-6.2,-4.2L-2.9,0L-6.2,4.2Z" fill="#064eaa"/>
<path transform="translate(861.3,690.0) rotate(-57)" d="M6.6,0L-6.2,-4.2L-2.9,0L-6.2,4.2Z" fill="#064eaa"/>
<path transform="translate(878.8,715.7) rotate(-56)" d="M6.6,0L-6.2,-4.2L-2.9,0L-6.2,4.2Z" fill="#064eaa"/>
<path transform="translate(896.2,715.7) rotate(-52)" d="M6.6,0L-6.2,-4.2L-2.9,0L-6.2,4.2Z" fill="#064eaa"/>
<path transform="translate(913.7,715.7) rotate(-50)" d="M6.6,0L-6.2,-4.2L-2.9,0L-6.2,4.2Z" fill="#064eaa"/>
<path transform="translate(931.2,690.0) rotate(-36)" d="M6.6,0L-6.2,-4.2L-2.9,0L-6.2,4.2Z" fill="#064eaa"/>
<path transform="translate(948.6,690.0) rotate(-29)" d="M6.6,0L-6.2,-4.2L-2.9,0L-6.2,4.2Z" fill="#064eaa"/>
<path transform="translate(966.1,707.1) rotate(-22)" d="M6.6,0L-6.2,-4.2L-2.9,0L-6.2,4.2Z" fill="#064eaa"/>
<path transform="translate(983.6,724.2) rotate(-4)" d="M6.6,0L-6.2,-4.2L-2.9,0L-6.2,4.2Z" fill="#064eaa"/>
<path transform="translate(1001.0,724.2) rotate(-4)" d="M6.6,0L-6.2,-4.2L-2.9,0L-6.2,4.2Z" fill="#064eaa"/>
<path transform="translate(1018.5,715.7) rotate(0)" d="M6.6,0L-6.2,-4.2L-2.9,0L-6.2,4.2Z" fill="#064eaa"/>
<path transform="translate(1036.0,690.0) rotate(7)" d="M6.6,0L-6.2,-4.2L-2.9,0L-6.2,4.2Z" fill="#064eaa"/>
<path transform="translate(1053.4,690.0) rotate(14)" d="M6.6,0L-6.2,-4.2L-2.9,0L-6.2,4.2Z" fill="#064eaa"/>
<path transform="translate(1070.9,707.1) rotate(29)" d="M6.6,0L-6.2,-4.2L-2.9,0L-6.2,4.2Z" fill="#064eaa"/>
</g>
</svg>
</div>
<div class="a" style="left:116px;top:177px;width:1px;height:636px;background:#1a1b1e"></div>
<svg class="a" style="left:122px;top:798px" width="20" height="12" viewBox="0 0 20 12"><path d="M1.5,6.3H16.5M12.6,2.6L16.8,6.3L12.6,10" fill="none" stroke="#111" stroke-width="1.1"/></svg>
<svg class="a" style="left:10px;top:55px" width="20" height="28" viewBox="0 0 20 28"><path d="M15.8,4.4L5.7,13.4L15.8,22.4" fill="none" stroke="#8a8a8a" stroke-width="3.1"/></svg>
<svg class="a" style="left:1092px;top:55px" width="20" height="28" viewBox="0 0 20 28"><path d="M4.0,4.4L14.1,13.4L4.0,22.4" fill="none" stroke="#8a8a8a" stroke-width="3.1"/></svg>
<div class="ax" style="right:1095.8px;top:201.2px;text-align:right">80 F</div>
<div class="ax" style="right:1095.8px;top:241.0px;text-align:right">60 F</div>
<div class="ax" style="right:1095.8px;top:280.9px;text-align:right">40 F</div>
<div class="ax" style="right:1096.0px;top:338.9px;text-align:right">100%</div>
<div class="ax" style="right:1096.0px;top:369.0px;text-align:right">75%</div>
<div class="ax" style="right:1096.0px;top:398.9px;text-align:right">50%</div>
<div class="ax" style="right:1096.0px;top:429.0px;text-align:right">25%</div>
<div class="ax" style="right:1096.0px;top:459.0px;text-align:right">0%</div>
<div class="ax" style="right:1095.5px;top:521.1px;text-align:right">0.4</div>
<div class="ax" style="right:1095.5px;top:569.0px;text-align:right">0.2</div>
<div class="ax" style="right:1095.5px;top:616.6px;text-align:right">0.0</div>
<div class="ax" style="right:1095.6px;top:690.4px;text-align:right">10</div>
<div class="ax" style="right:1095.6px;top:732.9px;text-align:right">5</div>
<div class="ax" style="right:1095.6px;top:775.6px;text-align:right">0</div>
<div class="ax" style="left:1091px;top:338.9px">30.10</div>
<div class="ax" style="left:1091px;top:369.0px">29.99</div>
<div class="ax" style="left:1091px;top:398.9px">29.88</div>
<div class="ax" style="left:1091px;top:429.0px">29.76</div>
<div class="ax" style="left:1091px;top:459.0px">29.65</div>
<div class="sw" style="left:615.9px;top:322.5px;height:12px;background:#4f9d44;"></div><div class="lg" style="left:646.9px;top:317.50px;letter-spacing:0.17px">Dew Point (°)</div>
<div class="sw" style="left:767.8px;top:322.5px;height:12px;background:#a651a6;"></div><div class="lg" style="left:798.7px;top:317.50px;letter-spacing:0.00px">Feels Like (°F)</div>
<div class="sw" style="left:927.2px;top:322.5px;height:12px;background:#d5202a;"></div><div class="lg" style="left:958.8px;top:317.50px;letter-spacing:0.19px">Temperature (°F)</div>
<div class="sw" style="left:214.9px;top:481.0px;height:12px;background:#a6a6a6;"></div><div class="lg" style="left:245.8px;top:476.00px;letter-spacing:-0.04px">Cloud Cover (%)</div>
<div class="sw" style="left:386.5px;top:481.0px;height:12px;background:#19a7db;"></div><div class="lg" style="left:417.2px;top:476.00px;letter-spacing:0.14px">Chance of Precip. (%)</div>
<div class="sw" style="left:600.6px;top:481.0px;height:12px;background:#cc8fcc;box-sizing:border-box;border:1.5px solid #29a9df;"></div><div class="lg" style="left:631.6px;top:476.00px;letter-spacing:0.11px">Chance of Snow (%)</div>
<div class="sw" style="left:804.6px;top:481.0px;height:12px;background:#84c100;"></div><div class="lg" style="left:835.3px;top:476.00px;letter-spacing:0.18px">Humidity (%)</div>
<div class="sw" style="left:954.0px;top:481.0px;height:12px;background:#1e2023;"></div><div class="lg" style="left:984.5px;top:476.00px;letter-spacing:0.19px">Pressure. (in)</div>
<div class="sw" style="left:632.5px;top:639.0px;height:12px;background:#1487c0;"></div><div class="lg" style="left:663.7px;top:634.00px;letter-spacing:0.41px">Precip. Accum. Total (in)</div>
<div class="sw" style="left:869.8px;top:639.0px;height:12px;background:#1c6e0c;"></div><div class="lg" style="left:901.0px;top:634.00px;letter-spacing:0.26px">Hourly Liquid Precip. (in)</div>
<div class="sw" style="left:964.8px;top:797.2px;height:12px;background:#064eaa;"></div><div class="lg" style="left:995.8px;top:792.20px;letter-spacing:0.00px">Wind Speed</div>
</body></html>
